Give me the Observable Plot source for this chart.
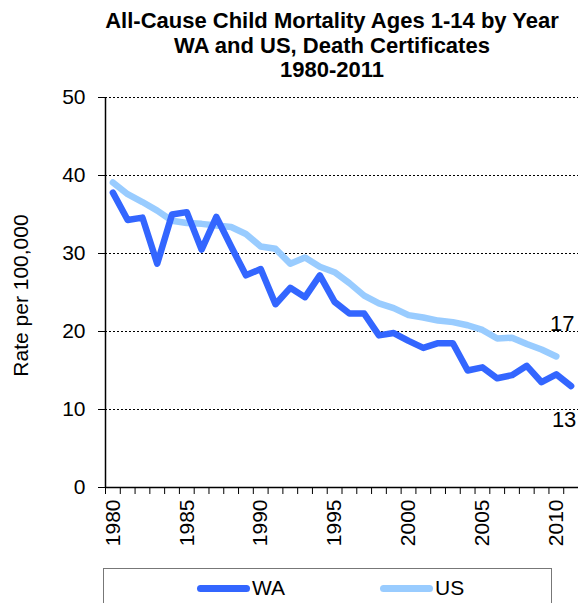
<!DOCTYPE html>
<html>
<head>
<meta charset="utf-8">
<script src="https://cdn.jsdelivr.net/npm/d3@7"></script>
<script src="https://cdn.jsdelivr.net/npm/@observablehq/plot@0.6"></script>
<style>
  html, body { margin: 0; padding: 0; background: #fff; }
  body { width: 578px; height: 603px; position: relative; overflow: hidden; font-family: "Liberation Sans", Arial, sans-serif; }
  #title { position: absolute; left: 32px; width: 600px; top: 9px; text-align: center; font-weight: bold; font-size: 22px; line-height: 24.5px; color: #000; }
  #chart { position: absolute; left: 0; top: 0; }
  #legend { position: absolute; left: 103px; top: 568px; width: 449px; height: 60px; border: 1px solid #777; box-sizing: border-box; }
  .item { position: absolute; top: 7px; font-size: 21px; line-height: 24px; color: #000; white-space: nowrap; }
  .sw { display: inline-block; width: 53px; height: 7px; border-radius: 3.5px; vertical-align: middle; margin-right: 2px; position: relative; top: -1px; }
</style>
</head>
<body>
<div id="chart"></div>
<div id="title">All-Cause Child Mortality Ages 1-14 by Year<br>WA and US, Death Certificates<br>1980-2011</div>
<div id="legend"></div>
<script>
const years = d3.range(1980, 2012);
const waRates = [37.8, 34.3, 34.6, 28.7, 35.0, 35.3, 30.5, 34.7, 30.9, 27.2,
                 28.0, 23.5, 25.6, 24.4, 27.2, 23.8, 22.3, 22.3, 19.5, 19.8,
                 18.8, 17.9, 18.5, 18.5, 15.0, 15.4, 14.0, 14.4, 15.6, 13.5,
                 14.5, 13.0];
const usYears = d3.range(1980, 2011);
const usRates = [39.1, 37.6, 36.6, 35.5, 34.2, 33.9, 33.8, 33.6, 33.4, 32.5,
                 30.9, 30.6, 28.7, 29.5, 28.3, 27.6, 26.2, 24.6, 23.6, 23.0,
                 22.1, 21.8, 21.4, 21.2, 20.8, 20.2, 19.1, 19.2, 18.4, 17.7,
                 16.8];
const yTicks = [0, 10, 20, 30, 40, 50];
const xLabelYears = [1980, 1985, 1990, 1995, 2000, 2005, 2010];
const seriesNames = ["WA", "US"];
const seriesColors = ["#3366ff", "#99ccff"];

const wa = years.map((y, i) => ({year: y, rate: waRates[i], series: "WA"}));
const us = usYears.map((y, i) => ({year: y, rate: usRates[i], series: "US"}));
const usEnd = [{...us[us.length - 1], label: String(Math.round(us[us.length - 1].rate))}];
const waEnd = [{...wa[wa.length - 1], label: String(Math.round(wa[wa.length - 1].rate))}];

const chart = Plot.plot({
  width: 578,
  height: 603,
  marginLeft: 105,
  marginRight: 0,
  marginTop: 97,
  marginBottom: 116,
  style: {fontFamily: "'Liberation Sans', Arial, sans-serif", fontSize: "21px", color: "#000", background: "transparent"},
  x: {type: "linear", domain: [1979.5, 2011.5]},
  y: {domain: [0, 50]},
  marks: [
    Plot.gridY(yTicks.filter(d => d > 0), {stroke: "#000", strokeOpacity: 1, strokeDasharray: "2,2", strokeWidth: 1}),
    Plot.axisY(yTicks, {tickSize: 7, tickPadding: 13, label: null, stroke: "#000", fontSize: 21}),
    Plot.text(["Rate per 100,000"], {frameAnchor: "left", textAnchor: "middle", rotate: -90, dx: -84, dy: 3, fontSize: 21}),
    Plot.axisX(d3.range(1979.5, 2012, 1), {tickSize: 7, tickFormat: () => "", label: null, stroke: "#000"}),
    Plot.axisX(xLabelYears, {tickSize: 0, tickPadding: 12, tickRotate: -90, tickFormat: d => String(d), label: null, fontSize: 21}),
    Plot.ruleX([1979.5], {stroke: "#000", strokeWidth: 1.5}),
    Plot.ruleY([0], {stroke: "#000", strokeWidth: 1.5}),
    Plot.line(us, {x: "year", y: "rate", stroke: seriesColors[1], strokeWidth: 6.5, strokeLinejoin: "round", strokeLinecap: "round"}),
    Plot.line(wa, {x: "year", y: "rate", stroke: seriesColors[0], strokeWidth: 6.5, strokeLinejoin: "round", strokeLinecap: "round"}),
    Plot.text(usEnd, {x: "year", y: "rate", text: "label", dx: 6, dy: -33, fontSize: 22}),
    Plot.text(waEnd, {x: "year", y: "rate", text: "label", dx: -7, dy: 34, fontSize: 22})
  ]
});
document.getElementById("chart").appendChild(chart);

const legend = document.getElementById("legend");
const positions = [93, 276];
seriesNames.forEach((name, i) => {
  const el = document.createElement("div");
  el.className = "item";
  el.style.left = positions[i] + "px";
  el.innerHTML = `<span class="sw" style="background:${seriesColors[i]}"></span>${name}`;
  legend.appendChild(el);
});
</script>
</body>
</html>
